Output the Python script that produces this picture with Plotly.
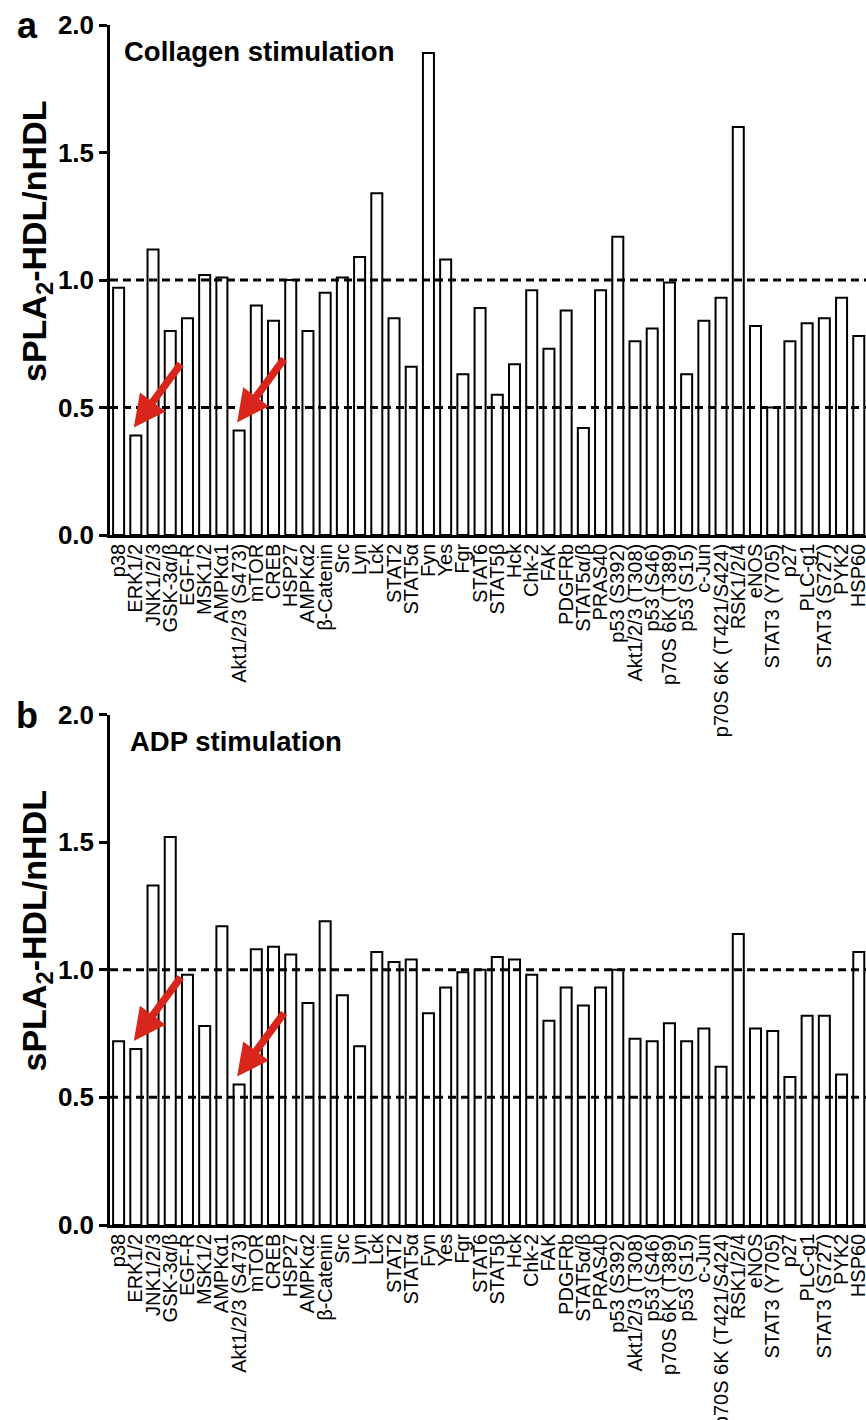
import plotly.graph_objects as go

categories = [
    "p38", "ERK1/2", "JNK1/2/3", "GSK-3α/β", "EGF-R", "MSK1/2", "AMPKα1",
    "Akt1/2/3 (S473)", "mTOR", "CREB", "HSP27", "AMPKα2", "β-Catenin", "Src",
    "Lyn", "Lck", "STAT2", "STAT5α", "Fyn", "Yes", "Fgr", "STAT6", "STAT5β",
    "Hck", "Chk-2", "FAK", "PDGFRb", "STAT5α/β", "PRAS40", "p53 (S392)",
    "Akt1/2/3 (T308)", "p53 (S46)", "p70S 6K (T389)", "p53 (S15)", "c-Jun",
    "p70S 6K (T421/S424)", "RSK1/2/4", "eNOS", "STAT3 (Y705)", "p27",
    "PLC-g1", "STAT3 (S727)", "PYK2", "HSP60",
]

collagen = [
    0.97, 0.39, 1.12, 0.80, 0.85, 1.02, 1.01, 0.41, 0.90, 0.84, 1.00, 0.80,
    0.95, 1.01, 1.09, 1.34, 0.85, 0.66, 1.89, 1.08, 0.63, 0.89, 0.55, 0.67,
    0.96, 0.73, 0.88, 0.42, 0.96, 1.17, 0.76, 0.81, 0.99, 0.63, 0.84, 0.93,
    1.60, 0.82, 0.50, 0.76, 0.83, 0.85, 0.93, 0.78,
]

adp = [
    0.72, 0.69, 1.33, 1.52, 0.98, 0.78, 1.17, 0.55, 1.08, 1.09, 1.06, 0.87,
    1.19, 0.90, 0.70, 1.07, 1.03, 1.04, 0.83, 0.93, 0.99, 1.00, 1.05, 1.04,
    0.98, 0.80, 0.93, 0.86, 0.93, 1.00, 0.73, 0.72, 0.79, 0.72, 0.77, 0.62,
    1.14, 0.77, 0.76, 0.58, 0.82, 0.82, 0.59, 1.07,
]

ref_lines = [0.5, 1.0]
y_ticks = [0.0, 0.5, 1.0, 1.5, 2.0]
highlighted = ["ERK1/2", "Akt1/2/3 (S473)"]
panel_titles = ["Collagen stimulation", "ADP stimulation"]
panel_letters = ["a", "b"]
y_title = "sPLA<sub>2</sub>-HDL/nHDL"

W, H = 866, 1420
FONT = "Liberation Sans, Arial, sans-serif"
RED = "#d9261c"


def px_x(p):
    return p / W


def px_y(p):
    return 1 - p / H


# page-pixel layout of each panel (top, bottom)
panels_px = [(25, 535), (714.5, 1225)]
x_left_px = 110

fig = go.Figure()

series = [collagen, adp]
annotations = []
shapes = []
for i, (vals, (top, bot)) in enumerate(zip(series, panels_px)):
    xa = "x" if i == 0 else "x2"
    ya = "y" if i == 0 else "y2"
    fig.add_trace(go.Bar(
        x=categories, y=vals, xaxis=xa, yaxis=ya,
        marker=dict(color="white", line=dict(color="black", width=2)),
        width=0.64, showlegend=False, hoverinfo="x+y",
    ))
    axis_common = dict(
        showline=True, linecolor="black", linewidth=2.5, mirror=False,
        showgrid=False, zeroline=False, automargin=False,
    )
    fig.layout[("xaxis" if i == 0 else "xaxis2")] = dict(
        domain=[px_x(x_left_px), 1], anchor=ya, type="category",
        range=[-0.5, 43.42], tickangle=-90, ticks="",
        tickmode="linear", tick0=0, dtick=1, ticklabelstandoff=-2,
        tickfont=dict(family=FONT, size=20, color="black"),
        **axis_common,
    )
    fig.layout[("yaxis" if i == 0 else "yaxis2")] = dict(
        domain=[px_y(bot), px_y(top)], anchor=xa, range=[0, 2],
        tickvals=y_ticks, tickformat=".1f", ticks="outside", ticklen=8,
        tickwidth=2.5, tickcolor="black",
        tickfont=dict(family=FONT, size=26, color="black", weight="bold"),
        **axis_common,
    )
    for rv in ref_lines:
        shapes.append(dict(
            type="line", xref=f"{xa} domain", yref=ya, x0=0, x1=1, y0=rv, y1=rv,
            line=dict(color="black", width=3, dash="8px,5px"), layer="above",
        ))
    # panel letter
    annotations.append(dict(
        text=f"<b>{panel_letters[i]}</b>", xref="paper", yref="paper",
        x=px_x(27), y=px_y(top + 1), xanchor="center", yanchor="middle",
        showarrow=False, font=dict(family=FONT, size=36, color="black"),
    ))
    # panel title
    annotations.append(dict(
        text=f"<b>{panel_titles[i]}</b>", xref="paper", yref="paper",
        x=px_x(122 if i == 0 else 128), y=px_y(top + 27),
        xanchor="left", yanchor="middle", showarrow=False,
        font=dict(family=FONT, size=27.5, color="black"),
    ))
    # y title
    annotations.append(dict(
        text=f"<b>{y_title}</b>", xref="paper", yref="paper",
        x=px_x(36), y=px_y(top + 217), xanchor="center", yanchor="middle",
        textangle=-90, showarrow=False,
        font=dict(family=FONT, size=34, color="black"),
    ))
    # red arrows
    for name in highlighted:
        v = vals[categories.index(name)]
        annotations.append(dict(
            text="", x=name, y=v, xref=xa, yref=ya, xshift=-2, yshift=8,
            showarrow=True, ax=48, ay=-65, arrowhead=2, arrowsize=0.85,
            arrowwidth=7.5, arrowcolor=RED,
        ))

fig.update_layout(
    width=W, height=H, autosize=False,
    margin=dict(l=0, r=0, t=0, b=0, pad=0),
    plot_bgcolor="white", paper_bgcolor="white",
    bargap=0.36, annotations=annotations, shapes=shapes,
    font=dict(family=FONT, color="black"),
)

fig.write_html(
    "out.html",
    config={"displayModeBar": False},
    post_script="document.body.style.margin='0';document.body.style.overflow='hidden';",
)
